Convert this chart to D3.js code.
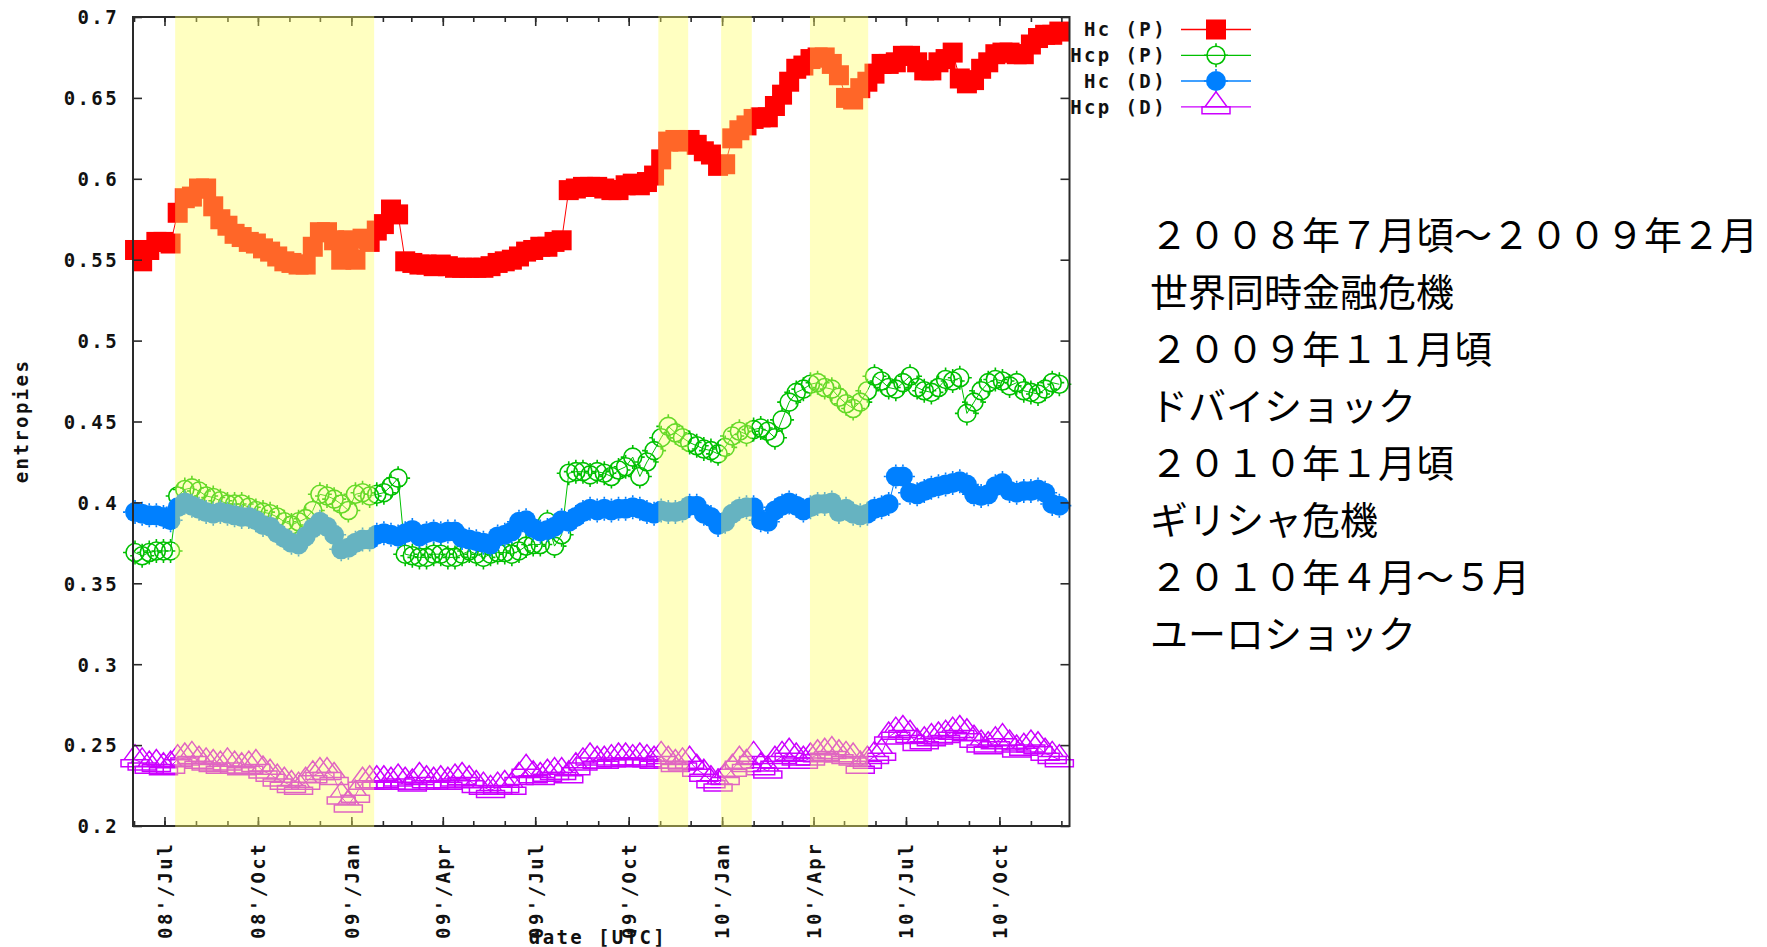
<!DOCTYPE html>
<html lang="ja">
<head>
<meta charset="utf-8">
<title>entropies</title>
<script src="https://cdn.jsdelivr.net/npm/d3@7"></script>
<style>
  html, body { margin: 0; padding: 0; background: #fff; }
  svg { display: block; }
  .mono { font-family: "DejaVu Sans Mono", monospace; font-weight: bold; font-size: 19px; letter-spacing: 2.4px; fill: #111; }
  .note { font-family: "Noto Sans CJK JP", sans-serif; font-size: 38px; fill: #000; }
</style>
</head>
<body>
<svg id="chart" width="1767" height="947"></svg>
<script>
// Weekly samples, the first one taken on this date
const firstSample = "2008-06-02";

// Hc (P)
const hcP = [
  0.556,0.549,0.556,0.561,0.561,0.560,0.579,0.588,0.589,0.594,
  0.594,0.583,0.575,0.571,0.566,0.564,0.561,0.560,0.557,0.555,
  0.552,0.549,0.548,0.547,0.547,0.558,0.567,0.567,0.562,0.550,
  0.562,0.550,0.563,0.561,0.568,0.572,0.581,0.578,0.549,0.548,
  0.547,0.547,0.546,0.547,0.546,0.545,0.545,0.545,0.545,0.545,
  0.546,0.548,0.549,0.550,0.552,0.555,0.556,0.558,0.558,0.561,
  0.562,0.593,0.594,0.595,0.595,0.595,0.594,0.593,0.593,0.596,
  0.597,0.596,0.598,0.602,0.612,0.623,0.624,0.623,0.624,0.621,
  0.617,0.615,0.608,0.609,0.625,0.630,0.633,0.637,0.638,0.638,
  0.645,0.652,0.660,0.668,0.670,0.674,0.675,0.675,0.671,0.664,
  0.650,0.649,0.656,0.660,0.665,0.671,0.671,0.672,0.676,0.676,
  0.672,0.667,0.667,0.672,0.674,0.678,0.662,0.659,0.661,0.668,
  0.672,0.677,0.678,0.678,0.677,0.677,0.683,0.687,0.689,0.689,
  0.691
];

// Hcp (P)
const hcpP = [
  0.369,0.367,0.369,0.370,0.370,0.370,0.404,0.408,0.409,0.407,
  0.404,0.403,0.401,0.399,0.399,0.399,0.397,0.395,0.394,0.393,
  0.391,0.388,0.386,0.388,0.390,0.395,0.405,0.404,0.402,0.399,
  0.395,0.405,0.406,0.404,0.405,0.406,0.410,0.415,0.368,0.367,
  0.366,0.366,0.368,0.368,0.366,0.366,0.368,0.370,0.368,0.366,
  0.368,0.369,0.369,0.368,0.370,0.373,0.374,0.374,0.388,0.373,
  0.380,0.418,0.419,0.419,0.417,0.419,0.418,0.416,0.420,0.422,
  0.428,0.416,0.425,0.432,0.440,0.447,0.443,0.440,0.437,0.435,
  0.433,0.432,0.430,0.434,0.441,0.444,0.442,0.445,0.446,0.444,
  0.440,0.451,0.462,0.468,0.470,0.473,0.474,0.471,0.470,0.465,
  0.461,0.458,0.462,0.469,0.478,0.475,0.471,0.470,0.474,0.478,
  0.471,0.469,0.468,0.471,0.476,0.475,0.477,0.455,0.462,0.469,
  0.474,0.476,0.475,0.472,0.474,0.469,0.468,0.467,0.470,0.474,
  0.473
];

// Hc (D)
const hcD = [
  0.394,0.393,0.392,0.392,0.391,0.389,0.397,0.400,0.398,0.396,
  0.394,0.393,0.394,0.393,0.392,0.391,0.391,0.389,0.386,0.385,
  0.381,0.378,0.375,0.374,0.379,0.384,0.388,0.385,0.380,0.371,
  0.372,0.375,0.377,0.377,0.380,0.381,0.380,0.379,0.381,0.383,
  0.379,0.381,0.382,0.381,0.382,0.382,0.378,0.377,0.376,0.375,
  0.374,0.379,0.380,0.382,0.388,0.389,0.384,0.382,0.383,0.385,
  0.389,0.388,0.391,0.394,0.396,0.395,0.396,0.395,0.396,0.396,
  0.397,0.396,0.394,0.393,0.395,0.394,0.394,0.395,0.398,0.398,
  0.393,0.391,0.386,0.388,0.393,0.396,0.397,0.397,0.389,0.388,
  0.395,0.398,0.400,0.398,0.395,0.397,0.399,0.399,0.400,0.394,
  0.396,0.393,0.392,0.393,0.396,0.397,0.399,0.416,0.416,0.406,
  0.405,0.407,0.409,0.410,0.411,0.412,0.413,0.411,0.405,0.404,
  0.405,0.410,0.412,0.407,0.406,0.407,0.407,0.408,0.406,0.399,
  0.398
];

// Hcp (D)
const hcpD = [
  0.241,0.239,0.237,0.238,0.236,0.237,0.241,0.242,0.243,0.240,
  0.239,0.238,0.237,0.239,0.237,0.236,0.237,0.238,0.234,0.232,
  0.229,0.227,0.225,0.224,0.227,0.231,0.233,0.233,0.230,0.218,
  0.213,0.219,0.227,0.228,0.228,0.228,0.227,0.229,0.227,0.226,
  0.230,0.228,0.227,0.228,0.227,0.229,0.230,0.228,0.225,0.224,
  0.222,0.224,0.225,0.224,0.230,0.235,0.231,0.230,0.232,0.233,
  0.233,0.231,0.236,0.239,0.242,0.240,0.240,0.241,0.242,0.242,
  0.241,0.242,0.241,0.240,0.243,0.240,0.238,0.239,0.240,0.235,
  0.232,0.228,0.226,0.230,0.235,0.240,0.238,0.243,0.236,0.234,
  0.240,0.243,0.245,0.242,0.240,0.242,0.244,0.245,0.246,0.244,
  0.243,0.242,0.237,0.240,0.243,0.245,0.255,0.258,0.259,0.256,
  0.251,0.252,0.254,0.255,0.256,0.258,0.259,0.257,0.253,0.250,
  0.249,0.252,0.254,0.250,0.247,0.248,0.250,0.249,0.245,0.243,
  0.241
];

const seriesNames = ["Hc (P)", "Hcp (P)", "Hc (D)", "Hcp (D)"];
const seriesColors = ["#ff0000", "#00c000", "#0080ff", "#cc00ff"];
const seriesSymbols = ["square", "ring", "disc", "triangle"];

const xDomain = ["2008-05-31", "2010-12-09"];
const xTickDates = ["2008-07-01", "2008-10-01", "2009-01-01", "2009-04-01", "2009-07-01",
                    "2009-10-01", "2010-01-01", "2010-04-01", "2010-07-01", "2010-10-01"];
const xTickLabels = ["08'/Jul", "08'/Oct", "09'/Jan", "09'/Apr", "09'/Jul",
                     "09'/Oct", "10'/Jan", "10'/Apr", "10'/Jul", "10'/Oct"];
const yTicks = [0.2, 0.25, 0.3, 0.35, 0.4, 0.45, 0.5, 0.55, 0.6, 0.65, 0.7];
const yTickLabels = ["0.2", "0.25", "0.3", "0.35", "0.4", "0.45", "0.5", "0.55", "0.6", "0.65", "0.7"];
const xTitle = "date [UTC]";
const yTitle = "entropies";

// Highlighted crisis periods
const crisisPeriods = [
  ["2008-07-11T12:00", "2009-01-23T10:00"],
  ["2009-10-30T05:00", "2009-11-28T14:00"],
  ["2009-12-31T00:00", "2010-01-30T05:00"],
  ["2010-03-28T12:00", "2010-05-24T19:00"]
];

const notes = [
  "２００８年７月頃～２００９年２月",
  "世界同時金融危機",
  "２００９年１１月頃",
  "ドバイショック",
  "２０１０年１月頃",
  "ギリシャ危機",
  "２０１０年４月～５月",
  "ユーロショック"
];

// ---------------------------------------------------------------------------
const plot = { left: 133, right: 1069.5, top: 17, bottom: 826 };
const parseDay = d3.utcParse("%Y-%m-%d");
const parseStamp = d3.utcParse("%Y-%m-%dT%H:%M");

const svg = d3.select("#chart");

const x = d3.scaleUtc()
  .domain(xDomain.map(parseDay))
  .range([plot.left, plot.right]);
const y = d3.scaleLinear()
  .domain([0.2, 0.7])
  .range([plot.bottom, plot.top]);

const start = parseDay(firstSample);
const sampleDates = hcP.map((_, i) => d3.utcDay.offset(start, 7 * i));
const allSeries = [hcP, hcpP, hcD, hcpD].map((vals, i) => ({
  name: seriesNames[i],
  color: seriesColors[i],
  symbol: seriesSymbols[i],
  points: vals.map((v, j) => ({ date: sampleDates[j], value: v }))
}));

function drawSymbol(g, symbol, color) {
  if (symbol === "square") {
    g.append("rect").attr("x", -10).attr("y", -10).attr("width", 20).attr("height", 20)
      .attr("fill", color);
  } else if (symbol === "ring") {
    g.append("circle").attr("r", 9).attr("fill", "none")
      .attr("stroke", color).attr("stroke-width", 1.6);
    g.append("path").attr("d", "M0,-9V-12M0,9V12M-9,0H-12M9,0H12")
      .attr("stroke", color).attr("stroke-width", 1.6);
  } else if (symbol === "disc") {
    g.append("circle").attr("r", 10).attr("fill", color);
    g.append("path").attr("d", "M0,-10V-12M0,10V12M-10,0H-12M10,0H12")
      .attr("stroke", color).attr("stroke-width", 1.6);
  } else {
    g.append("path").attr("d", "M0,-15L-11,0H11ZM-14,0H14V7H-14Z")
      .attr("fill", "none").attr("stroke", color).attr("stroke-width", 1.5);
  }
}

// Series: connecting line, then the symbols
const line = d3.line().x(d => x(d.date)).y(d => y(d.value));
const seriesLayer = svg.append("g");
allSeries.forEach(s => {
  const g = seriesLayer.append("g");
  g.append("path").datum(s.points).attr("d", line)
    .attr("fill", "none").attr("stroke", s.color).attr("stroke-width", 1);
  g.selectAll("g.pt").data(s.points).join("g")
    .attr("class", "pt")
    .attr("transform", d => `translate(${x(d.date)},${y(d.value)})`)
    .each(function () { drawSymbol(d3.select(this), s.symbol, s.color); });
});

// Frame and ticks
const axisColor = "#2a2a2a";
const majorDates = xTickDates.map(parseDay);
const minorDates = d3.utcMonth.range(parseDay("2008-06-01"), parseDay("2010-12-09"));

function styleAxis(g) {
  g.select(".domain").remove();
  g.selectAll(".tick line").attr("stroke", axisColor).attr("stroke-width", 1.6);
}

// bottom minor + major
svg.append("g").attr("transform", `translate(0,${plot.bottom})`)
  .call(d3.axisBottom(x).tickValues(minorDates).tickSizeInner(-5).tickFormat(() => ""))
  .call(styleAxis);
const bottomMajor = svg.append("g").attr("transform", `translate(0,${plot.bottom})`)
  .call(d3.axisBottom(x).tickValues(majorDates).tickSizeInner(-9)
    .tickFormat((d, i) => xTickLabels[i]))
  .call(styleAxis);
bottomMajor.selectAll(".tick text")
  .attr("class", "mono")
  .attr("transform", "rotate(-90)")
  .attr("x", -16).attr("y", 0).attr("dy", "0.36em")
  .attr("text-anchor", "end")
  .attr("fill", "#111");

// top mirror ticks
svg.append("g").attr("transform", `translate(0,${plot.top})`)
  .call(d3.axisTop(x).tickValues(minorDates).tickSizeInner(-5).tickFormat(() => ""))
  .call(styleAxis);
svg.append("g").attr("transform", `translate(0,${plot.top})`)
  .call(d3.axisTop(x).tickValues(majorDates).tickSizeInner(-9).tickFormat(() => ""))
  .call(styleAxis);

// left axis with labels
const leftAxis = svg.append("g").attr("transform", `translate(${plot.left},0)`)
  .call(d3.axisLeft(y).tickValues(yTicks).tickSizeInner(-9)
    .tickFormat((d, i) => yTickLabels[i]))
  .call(styleAxis);
leftAxis.selectAll(".tick text")
  .attr("class", "mono")
  .attr("x", -14).attr("dy", "0.36em")
  .attr("text-anchor", "end")
  .attr("fill", "#111");

// right mirror ticks
svg.append("g").attr("transform", `translate(${plot.right},0)`)
  .call(d3.axisRight(y).tickValues(yTicks).tickSizeInner(-9).tickFormat(() => ""))
  .call(styleAxis);

svg.append("rect")
  .attr("x", plot.left).attr("y", plot.top)
  .attr("width", plot.right - plot.left).attr("height", plot.bottom - plot.top)
  .attr("fill", "none").attr("stroke", axisColor).attr("stroke-width", 2);

// Axis titles
svg.append("text").attr("class", "mono")
  .attr("transform", `translate(28,421) rotate(-90)`)
  .attr("text-anchor", "middle")
  .text(yTitle);
svg.append("text").attr("class", "mono")
  .attr("x", 598).attr("y", 944)
  .attr("text-anchor", "middle")
  .text(xTitle);

// Translucent highlight of the crisis periods, laid over the data
svg.append("g").selectAll("rect").data(crisisPeriods).join("rect")
  .attr("x", d => x(parseStamp(d[0])))
  .attr("width", d => x(parseStamp(d[1])) - x(parseStamp(d[0])))
  .attr("y", plot.top - 1)
  .attr("height", plot.bottom - plot.top + 2)
  .attr("fill", "rgb(255,255,100)")
  .attr("fill-opacity", 0.4);

// Legend
const legendRows = [29.5, 55.3, 81, 106.8];
const legend = svg.append("g");
allSeries.forEach((s, i) => {
  const row = legend.append("g").attr("transform", `translate(0,${legendRows[i]})`);
  row.append("text").attr("class", "mono")
    .attr("x", 1167).attr("dy", "0.36em").attr("text-anchor", "end")
    .text(s.name);
  row.append("line").attr("x1", 1181).attr("x2", 1251)
    .attr("stroke", s.color).attr("stroke-width", 1.3);
  const m = row.append("g").attr("transform", "translate(1216,0)");
  drawSymbol(m, s.symbol, s.color);
});

// Annotations
svg.append("g").selectAll("text").data(notes).join("text")
  .attr("class", "note")
  .attr("x", 1150)
  .attr("y", (d, i) => 249 + 57 * i)
  .text(d => d);
</script>
</body>
</html>
